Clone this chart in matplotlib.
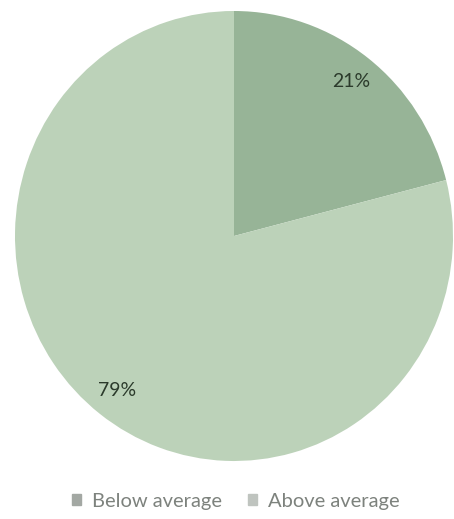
import numpy as np
from matplotlib import pyplot as plt

labels = ["Below average", "Above average"]
values = [21, 79]
colors = ["#97b497", "#bcd2b9"]
legend_colors = ["#a3a8a3", "#bfc4bf"]

W, H = 454, 519
cx, cy = 234, 236
rx, ry = 219, 225

fig = plt.figure(figsize=(W / 100, H / 100), dpi=100)
ax = fig.add_axes([(cx - rx) / W, (H - cy - ry) / H, 2 * rx / W, 2 * ry / H])

wedges, texts, autotexts = ax.pie(
    values, colors=colors, startangle=90, counterclock=False,
    autopct="%d%%", pctdistance=0.87, radius=1,
    wedgeprops=dict(linewidth=0),
    textprops=dict(fontsize=14, color="#2b3a2b", family="Lato"),
)
ax.set_xlim(-1, 1)
ax.set_ylim(-1, 1)
ax.set_aspect("auto")
ax.axis("off")

handles = [plt.Rectangle((0, 0), 1, 1, color=c) for c in legend_colors]
fig.legend(handles, labels, loc="center", bbox_to_anchor=(236 / W, 1 - 501 / H),
           ncol=2, frameon=False, handlelength=0.45, handleheight=0.45,
           handletextpad=0.55, columnspacing=1.3,
           prop=dict(family="Lato", size=14.5), labelcolor="#7d827d")

fig.savefig("out.png", dpi=100)
